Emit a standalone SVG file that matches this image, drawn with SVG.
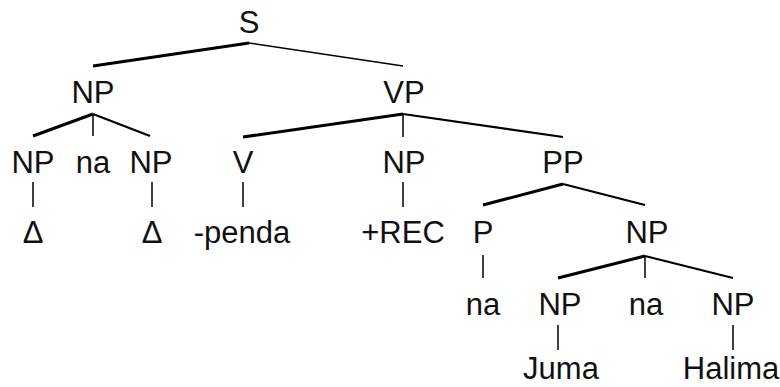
<svg xmlns="http://www.w3.org/2000/svg" width="780" height="387" viewBox="0 0 780 387">
<style>
text{font-family:"Liberation Sans",Arial,sans-serif;font-size:31px;fill:#111;text-anchor:middle}
.e{stroke:#000;fill:none;stroke-linecap:butt}
.t{stroke-width:3}
.m{stroke-width:2.2}
.n{stroke-width:1.6}
.v{stroke-width:1.5}
</style>
<rect width="780" height="387" fill="#fff"/>
<g id="connectors">
<line class="e t" x1="249" y1="43" x2="93" y2="66"/>
<line class="e n" x1="249" y1="43" x2="403" y2="66"/>
<line class="e t" x1="93" y1="114" x2="33" y2="136"/>
<line class="e v" x1="93" y1="114" x2="93" y2="136"/>
<line class="e m" x1="93" y1="114" x2="150" y2="136"/>
<line class="e t" x1="403" y1="114" x2="243" y2="137"/>
<line class="e v" x1="403" y1="114" x2="403" y2="137"/>
<line class="e m" x1="403" y1="114" x2="563" y2="137"/>
<line class="e v" x1="33" y1="182" x2="33" y2="207"/>
<line class="e v" x1="152" y1="182" x2="152" y2="207"/>
<line class="e v" x1="243" y1="182" x2="243" y2="207"/>
<line class="e v" x1="403" y1="182" x2="403" y2="207"/>
<line class="e t" x1="563" y1="184" x2="483" y2="205"/>
<line class="e m" x1="563" y1="184" x2="645" y2="205"/>
<line class="e v" x1="483" y1="255" x2="483" y2="278"/>
<line class="e t" x1="645" y1="256" x2="558" y2="278"/>
<line class="e v" x1="645" y1="256" x2="645" y2="278"/>
<line class="e m" x1="645" y1="256" x2="733" y2="278"/>
<line class="e v" x1="558" y1="325" x2="558" y2="350"/>
<line class="e v" x1="733" y1="325" x2="733" y2="350"/>
</g>
<g id="S"><text x="249" y="33">S</text></g>
<g id="NP1"><text x="93" y="103">NP</text></g>
<g id="VP"><text x="404" y="103">VP</text></g>
<g id="NP2"><text x="33" y="173">NP</text></g>
<g id="na1"><text x="93" y="173">na</text></g>
<g id="NP3"><text x="151" y="173">NP</text></g>
<g id="V"><text x="243" y="173">V</text></g>
<g id="NP4"><text x="404" y="173">NP</text></g>
<g id="PP"><text x="563" y="173">PP</text></g>
<g id="delta1"><text x="33" y="243">Δ</text></g>
<g id="delta2"><text x="152" y="243">Δ</text></g>
<g id="penda"><text x="242" y="243">-penda</text></g>
<g id="REC"><text x="403" y="243">+REC</text></g>
<g id="P"><text x="483" y="243">P</text></g>
<g id="NP5"><text x="647" y="243">NP</text></g>
<g id="na2"><text x="483" y="315">na</text></g>
<g id="NP6"><text x="560" y="315">NP</text></g>
<g id="na3"><text x="646" y="315">na</text></g>
<g id="NP7"><text x="733" y="315">NP</text></g>
<g id="Juma"><text x="561" y="379">Juma</text></g>
<g id="Halima"><text x="731" y="379">Halima</text></g>
</svg>
